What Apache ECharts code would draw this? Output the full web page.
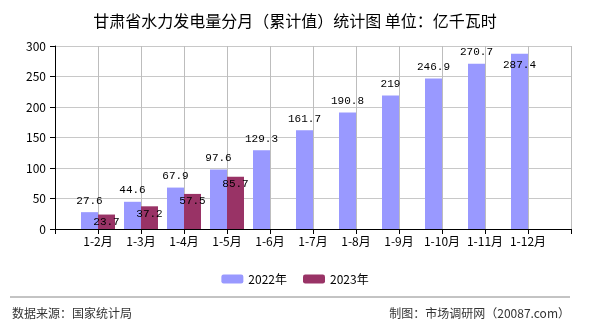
<!DOCTYPE html>
<html>
<head>
<meta charset="utf-8">
<script src="https://cdn.jsdelivr.net/npm/echarts@6/dist/echarts.min.js"></script>
<style>
    html, body { margin: 0; padding: 0; background: #fff; }
    #main { width: 590px; height: 330px; }
</style>
</head>
<body>
<div id="main"></div>
<script>
// 月份（累计）
const months = ['1-2月', '1-3月', '1-4月', '1-5月', '1-6月', '1-7月', '1-8月', '1-9月', '1-10月', '1-11月', '1-12月'];
// 2022年 亿千瓦时
const values2022 = [27.6, 44.6, 67.9, 97.6, 129.3, 161.7, 190.8, 219, 246.9, 270.7, 287.4];
// 2023年 亿千瓦时
const values2023 = [23.7, 37.2, 57.5, 85.7];
const seriesNames = ['2022年', '2023年'];
const yTicks = [0, 50, 100, 150, 200, 250, 300];

const cjk = '"Noto Sans CJK SC", sans-serif';
const mono = '"Liberation Mono", "DejaVu Sans Mono", monospace';

// 轴两端留空类目，标签落在刻度上
const cats = [''].concat(months, ['']);
const pad = (arr) => {
    const out = [null];
    for (let i = 0; i < months.length; i++) {
        out.push(i < arr.length ? arr[i] : null);
    }
    out.push(null);
    return out;
};

// 最后一根柱子标签放在柱内
const data2022 = pad(values2022).map((v, i) =>
    i === values2022.length ? { value: v, label: { position: 'insideTop' } } : v);

const myChart = echarts.init(document.getElementById('main'));

const option = {
    animation: false,
    color: ['#9999ff', '#993366'],
    title: {
        text: '甘肃省水力发电量分月（累计值）统计图 单位：亿千瓦时',
        left: 'center',
        top: 8,
        textStyle: { fontFamily: cjk, fontSize: 16, fontWeight: 'normal', color: '#000' }
    },
    legend: {
        data: seriesNames,
        left: 'center',
        top: 268,
        itemWidth: 22,
        itemHeight: 9,
        itemGap: 16,
        textStyle: { fontFamily: cjk, fontSize: 12, color: '#000' }
    },
    grid: {
        left: 55,
        right: 19,
        top: 46,
        bottom: 101
    },
    xAxis: {
        type: 'category',
        boundaryGap: false,
        data: cats,
        axisLine: { lineStyle: { color: '#000' } },
        axisTick: { interval: 0, length: 5, lineStyle: { color: '#000' } },
        axisLabel: { interval: 0, margin: 6, fontFamily: cjk, fontSize: 12, color: '#000' },
        splitLine: { show: true, interval: 0, lineStyle: { color: '#bdbdbd', width: 1 } }
    },
    yAxis: {
        type: 'value',
        min: yTicks[0],
        max: yTicks[yTicks.length - 1],
        interval: 50,
        axisLine: { show: true, lineStyle: { color: '#000' } },
        axisTick: { show: true, length: 5, lineStyle: { color: '#000' } },
        axisLabel: { margin: 9, fontFamily: cjk, fontSize: 12, color: '#000' },
        splitLine: { show: true, lineStyle: { color: '#c8c8c8' } }
    },
    series: [
        {
            name: seriesNames[0],
            type: 'bar',
            barWidth: 17,
            barGap: '0%',
            data: data2022,
            label: {
                show: true,
                position: 'top',
                distance: 6,
                color: '#000',
                fontFamily: mono,
                fontSize: 11
            }
        },
        {
            name: seriesNames[1],
            type: 'bar',
            barWidth: 17,
            barGap: '0%',
            data: pad(values2023),
            label: {
                show: true,
                position: 'insideTop',
                distance: 2,
                color: '#000',
                fontFamily: mono,
                fontSize: 11
            }
        }
    ],
    graphic: [
        {
            type: 'line',
            shape: { x1: 10, y1: 297, x2: 570, y2: 297 },
            style: { stroke: '#888', lineWidth: 1 }
        },
        {
            type: 'text',
            left: 12,
            top: 307,
            style: { text: '数据来源：国家统计局', fontFamily: cjk, fontSize: 12, fill: '#333' }
        },
        {
            type: 'text',
            right: 20,
            top: 307,
            style: { text: '制图：市场调研网（20087.com）', fontFamily: cjk, fontSize: 12, fill: '#333' }
        }
    ]
};

option && myChart.setOption(option);
</script>
</body>
</html>
